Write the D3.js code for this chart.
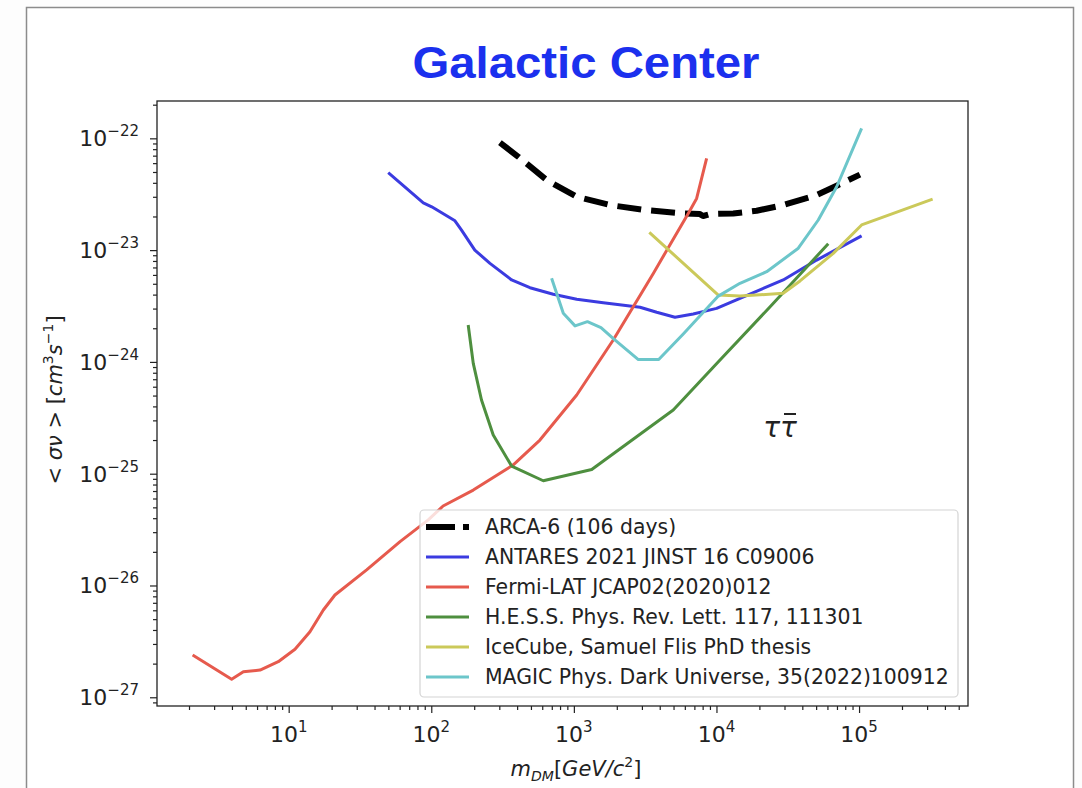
<!DOCTYPE html>
<html>
<head>
<meta charset="utf-8">
<script src="https://cdn.jsdelivr.net/npm/d3@7"></script>
<style>
  body { margin: 0; background: #ffffff; }
  svg { display: block; }
</style>
</head>
<body>
<svg id="chart" width="1082" height="788"></svg>
<script>
// ---- Limits on <σv> for DM annihilation into τ+τ−, Galactic Center ----
const arcaMass  = [303, 408, 644, 1047, 1791, 3070, 5850, 7660, 8050, 8970, 13120, 19140, 29380, 50460, 71400, 101400];
const arcaSigma = [9.14e-23, 6.84e-23, 4.24e-23, 3.0e-23, 2.53e-23, 2.29e-23, 2.13e-23, 2.1e-23, 2.02e-23, 2.1e-23, 2.13e-23, 2.25e-23, 2.53e-23, 3.11e-23, 3.82e-23, 4.74e-23];

const antaresMass  = [49.9, 87.9, 100.7, 146.6, 163, 202, 258, 366, 492, 717, 1047, 1607, 2911, 3811, 5117, 6871, 10020, 14620, 29380, 50460, 104200];
const antaresSigma = [4.93e-23, 2.65e-23, 2.44e-23, 1.83e-23, 1.51e-23, 1.0e-23, 7.62e-24, 5.41e-24, 4.61e-24, 4.03e-24, 3.63e-24, 3.39e-24, 3.08e-24, 2.78e-24, 2.51e-24, 2.68e-24, 3.01e-24, 3.71e-24, 5.41e-24, 8.15e-24, 1.34e-23];

const fermiMass  = [2.12, 3.98, 4.81, 6.3, 8.45, 11.07, 14.1, 17.5, 21.1, 35.2, 60.4, 95.2, 121, 197, 376, 578, 1047, 1888, 3606, 6340, 7260, 8530];
const fermiSigma = [2.39e-27, 1.45e-27, 1.69e-27, 1.75e-27, 2.08e-27, 2.69e-27, 3.86e-27, 6.04e-27, 8.22e-27, 1.38e-26, 2.47e-26, 3.86e-26, 5.14e-26, 7.14e-26, 1.2e-25, 2.0e-25, 5.06e-25, 1.57e-24, 6.19e-24, 2.13e-23, 2.9e-23, 6.62e-23];

const hessMass  = [181.5, 197, 225, 272, 366, 610, 1334, 2753, 4977, 10590, 23700, 60800];
const hessSigma = [2.14e-24, 9.7e-25, 4.56e-25, 2.22e-25, 1.17e-25, 8.65e-26, 1.09e-25, 2.14e-25, 3.71e-25, 1.04e-24, 3.1e-24, 1.14e-23];

const icecubeMass  = [3381, 10300, 14620, 29380, 38550, 65900, 104200, 328000];
const icecubeSigma = [1.44e-23, 3.96e-24, 3.88e-24, 4.11e-24, 5.3e-24, 9.35e-24, 1.68e-23, 2.86e-23];

const magicMass  = [698, 843, 1019, 1245, 1549, 1910, 2833, 3936, 5850, 10300, 14620, 22500, 37500, 51760, 69660, 104200];
const magicSigma = [5.6e-24, 2.72e-24, 2.1e-24, 2.29e-24, 2.03e-24, 1.6e-24, 1.05e-24, 1.05e-24, 1.78e-24, 3.88e-24, 5.05e-24, 6.41e-24, 1.04e-23, 1.86e-23, 3.69e-23, 1.23e-22];

const seriesLabels = [
  "ARCA-6 (106 days)",
  "ANTARES 2021 JINST 16 C09006",
  "Fermi-LAT JCAP02(2020)012",
  "H.E.S.S. Phys. Rev. Lett. 117, 111301",
  "IceCube, Samuel Flis PhD thesis",
  "MAGIC Phys. Dark Universe, 35(2022)100912"
];
const seriesColors = ["#000000", "#3b3be0", "#e65a4d", "#4e8f3f", "#cbc95a", "#6cc6ca"];

const xTickExponents = [1, 2, 3, 4, 5];
const yTickExponents = [-22, -23, -24, -25, -26, -27];

// ---- layout ----
const W = 1082, H = 788;
const plot = { left: 157, top: 101, right: 968, bottom: 706 };

const svg = d3.select("#chart");
svg.append("rect").attr("width", W).attr("height", H).attr("fill", "#fdfdfd");

// slide outline
svg.append("rect")
  .attr("x", 26.5).attr("y", 7.5).attr("width", 1047).attr("height", 820)
  .attr("fill", "#ffffff").attr("stroke", "#8c8c8c").attr("stroke-width", 1.5);

// title
svg.append("text")
  .attr("x", 586).attr("y", 78)
  .attr("text-anchor", "middle")
  .attr("font-family", "'Liberation Sans', Arial, sans-serif")
  .attr("font-weight", "bold")
  .attr("font-size", 44)
  .attr("textLength", 347).attr("lengthAdjust", "spacingAndGlyphs")
  .attr("fill", "#1b30ee")
  .text("Galactic Center");

// ---- scales ----
const x = d3.scaleLog().domain([Math.pow(10, 0.0765), Math.pow(10, 5.764)]).range([plot.left, plot.right]);
const y = d3.scaleLog().domain([Math.pow(10, -27.078), Math.pow(10, -21.666)]).range([plot.bottom, plot.top]);

function minorTicks(scale, lo, hi) {
  const out = [];
  const [d0, d1] = scale.domain();
  for (let e = lo; e <= hi; e++) {
    for (let m = 2; m <= 9; m++) {
      const v = m * Math.pow(10, e);
      if (v >= d0 && v <= d1) out.push(v);
    }
  }
  return out;
}

const tickFont = "'DejaVu Sans', sans-serif";
const axisColor = "#222";

// x axis
const gx = svg.append("g").attr("transform", `translate(0,${plot.bottom})`);
gx.call(d3.axisBottom(x).tickValues(xTickExponents.map(e => Math.pow(10, e))).tickSize(7).tickFormat(""));
gx.append("g").call(d3.axisBottom(x).tickValues(minorTicks(x, 0, 5)).tickSize(4).tickFormat(""));
gx.selectAll(".domain").remove();
gx.selectAll("line").attr("stroke", axisColor).attr("stroke-width", 1.2);

xTickExponents.forEach(e => {
  const t = svg.append("text")
    .attr("x", x(Math.pow(10, e))).attr("y", 742)
    .attr("text-anchor", "middle")
    .attr("font-family", tickFont).attr("font-size", 22).attr("fill", "#222");
  t.append("tspan").text("10");
  t.append("tspan").attr("dy", -10).attr("font-size", 15).text(String(e));
});

// y axis
const gy = svg.append("g").attr("transform", `translate(${plot.left},0)`);
gy.call(d3.axisLeft(y).tickValues(yTickExponents.map(e => Math.pow(10, e))).tickSize(7).tickFormat(""));
gy.append("g").call(d3.axisLeft(y).tickValues(minorTicks(y, -28, -22)).tickSize(4).tickFormat(""));
gy.selectAll(".domain").remove();
gy.selectAll("line").attr("stroke", axisColor).attr("stroke-width", 1.2);

yTickExponents.forEach(e => {
  const t = svg.append("text")
    .attr("x", 139).attr("y", y(Math.pow(10, e)) + 8)
    .attr("text-anchor", "end")
    .attr("font-family", tickFont).attr("font-size", 22).attr("fill", "#222");
  t.append("tspan").text("10");
  t.append("tspan").attr("dy", -10).attr("font-size", 15).text("\u2212" + String(-e));
});

// axis titles
const xt = svg.append("text")
  .attr("x", 576).attr("y", 776)
  .attr("text-anchor", "middle")
  .attr("font-family", tickFont).attr("font-size", 21).attr("fill", "#222");
xt.append("tspan").attr("font-style", "italic").text("m");
xt.append("tspan").attr("font-style", "italic").attr("font-size", 14).attr("dy", 5).text("DM");
xt.append("tspan").attr("dy", -5).text("[");
xt.append("tspan").attr("font-style", "italic").text("GeV/c");
xt.append("tspan").attr("font-size", 14).attr("dy", -9).text("2");
xt.append("tspan").attr("dy", 9).text("]");

const yt = svg.append("text")
  .attr("transform", "translate(62,400) rotate(-90)")
  .attr("text-anchor", "middle")
  .attr("font-family", tickFont).attr("font-size", 21).attr("fill", "#222");
yt.append("tspan").text("< ");
yt.append("tspan").attr("font-style", "italic").text("σν");
yt.append("tspan").text(" > [");
yt.append("tspan").attr("font-style", "italic").text("cm");
yt.append("tspan").attr("font-size", 14).attr("dy", -9).text("3");
yt.append("tspan").attr("font-style", "italic").attr("dy", 9).text("s");
yt.append("tspan").attr("font-size", 14).attr("dy", -9).text("\u22121");
yt.append("tspan").attr("dy", 9).text("]");

// ---- curves ----
svg.append("clipPath").attr("id", "plotClip")
  .append("rect").attr("x", plot.left).attr("y", plot.top)
  .attr("width", plot.right - plot.left).attr("height", plot.bottom - plot.top);

const series = [
  { mass: arcaMass, sigma: arcaSigma, width: 6, dash: "24 10" },
  { mass: antaresMass, sigma: antaresSigma, width: 3, dash: null },
  { mass: fermiMass, sigma: fermiSigma, width: 3, dash: null },
  { mass: hessMass, sigma: hessSigma, width: 3, dash: null },
  { mass: icecubeMass, sigma: icecubeSigma, width: 3, dash: null },
  { mass: magicMass, sigma: magicSigma, width: 3, dash: null }
];

const line = d3.line().x(d => x(d[0])).y(d => y(d[1]));
const gLines = svg.append("g").attr("clip-path", "url(#plotClip)");
series.forEach((s, i) => {
  const pts = s.mass.map((m, k) => [m, s.sigma[k]]);
  gLines.append("path")
    .datum(pts)
    .attr("d", line)
    .attr("fill", "none")
    .attr("stroke", seriesColors[i])
    .attr("stroke-width", s.width)
    .attr("stroke-linejoin", "round")
    .attr("stroke-dasharray", s.dash);
});

// channel label
svg.append("text")
  .attr("x", 780).attr("y", 437)
  .attr("text-anchor", "middle")
  .attr("font-family", tickFont).attr("font-style", "italic")
  .attr("font-size", 28).attr("fill", "#222")
  .text("ττ");
svg.append("line")
  .attr("x1", 784).attr("x2", 796).attr("y1", 414).attr("y2", 414)
  .attr("stroke", "#222").attr("stroke-width", 2);

// plot frame
svg.append("rect")
  .attr("x", plot.left).attr("y", plot.top)
  .attr("width", plot.right - plot.left).attr("height", plot.bottom - plot.top)
  .attr("fill", "none").attr("stroke", axisColor).attr("stroke-width", 1.3);

// ---- legend ----
const lg = svg.append("g");
lg.append("rect")
  .attr("x", 420).attr("y", 510).attr("width", 538).attr("height", 187).attr("rx", 4)
  .attr("fill", "#ffffff").attr("fill-opacity", 0.8)
  .attr("stroke", "#d4d4d4").attr("stroke-width", 1.2);
seriesLabels.forEach((label, i) => {
  const cy = 527 + i * 30;
  lg.append("line")
    .attr("x1", 426).attr("x2", 469).attr("y1", cy).attr("y2", cy)
    .attr("stroke", seriesColors[i])
    .attr("stroke-width", series[i].width)
    .attr("stroke-dasharray", i === 0 ? "29 8" : null);
  lg.append("text")
    .attr("x", 485).attr("y", cy + 7)
    .attr("font-family", tickFont).attr("font-size", 20.4).attr("fill", "#222")
    .text(label);
});
</script>
</body>
</html>
